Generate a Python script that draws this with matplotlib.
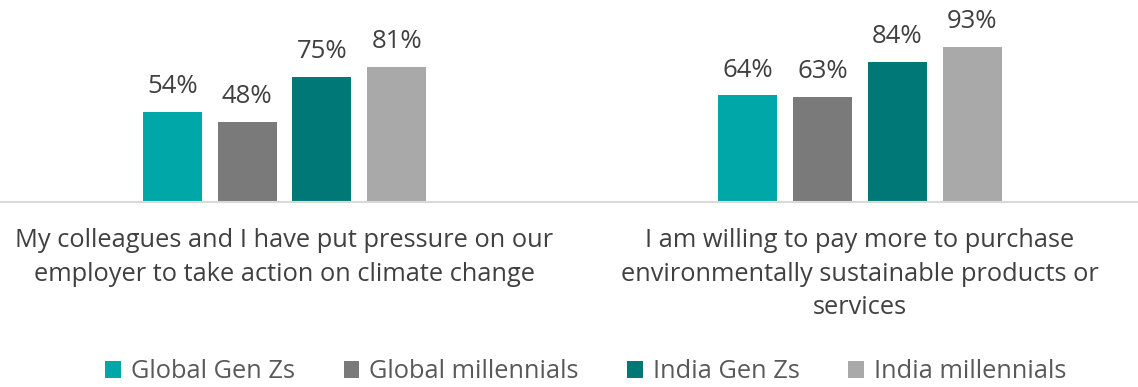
import matplotlib.pyplot as plt
import numpy as np

plt.rcParams['font.family'] = ['Open Sans', 'DejaVu Sans']

categories = ["My colleagues and I have put pressure on our\nemployer to take action on climate change",
              "I am willing to pay more to purchase\nenvironmentally sustainable products or\nservices"]
series = ["Global Gen Zs", "Global millennials", "India Gen Zs", "India millennials"]
global_genz = [54, 64]
global_mill = [48, 63]
india_genz = [75, 84]
india_mill = [81, 93]
cores = ["#00A7A8", "#7A7A7A", "#007877", "#A9A9A9"]

W, H = 1138, 387
fig = plt.figure(figsize=(W / 100, H / 100), dpi=100)
ax = fig.add_axes([0, (H - 202) / H, 1, 167 / H])

x = np.arange(len(categories))
largura = 0.1025
passo = 0.13
valores = [global_genz, global_mill, india_genz, india_mill]
for i, (nome, vals, cor) in enumerate(zip(series, valores, cores)):
    pos = x + (i - 1.5) * passo
    ax.bar(pos, vals, width=largura, color=cor, label=nome, zorder=2)
    for px, v in zip(pos, vals):
        ax.annotate(f"{v}%", (px, v), xytext=(0, 9), textcoords="offset points",
                    ha="center", va="bottom", fontsize=18.5, color="#404040",
                    annotation_clip=False)

ax.set_ylim(0, 100)
ax.set_xlim(-284.5 / 575.5, (W - 284.5) / 575.5)
ax.set_yticks([])
ax.set_xticks(x)
ax.set_xticklabels(categories, fontsize=18.3, color="#404040", linespacing=1.45)
ax.tick_params(axis="x", length=0, pad=19)
for lado in ["top", "right", "left"]:
    ax.spines[lado].set_visible(False)
ax.spines["bottom"].set_color("#D9D9D9")
ax.spines["bottom"].set_linewidth(1.5)

fig.legend(loc="center", bbox_to_anchor=(586 / W, 1 - 372 / H), ncol=4, frameon=False,
           fontsize=18.3, labelcolor="#595959", handlelength=0.62, handleheight=0.62,
           handletextpad=0.4, columnspacing=1.9)

fig.savefig("out.png", dpi=100)
